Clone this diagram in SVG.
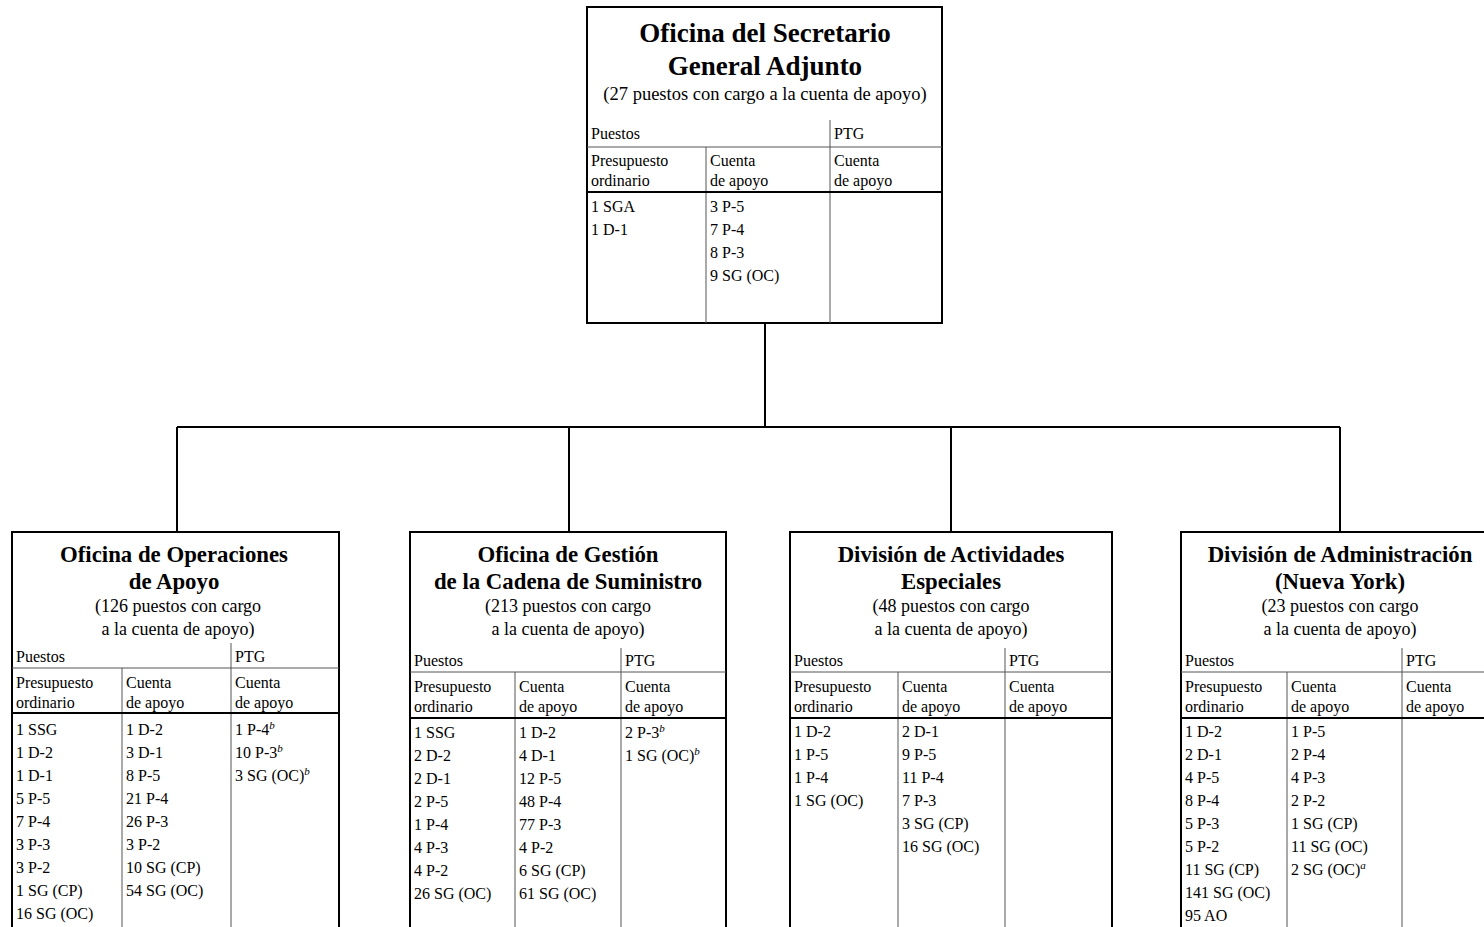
<svg xmlns="http://www.w3.org/2000/svg" width="1484" height="927" viewBox="0 0 1484 927">
  <style>
    text { font-family: "Liberation Serif", "Times New Roman", serif; fill: #000; }
    .ttl { font-size: 27px; font-weight: bold; text-anchor: middle; }
    .sub { font-size: 18.5px; text-anchor: middle; }
    .ttl2 { font-size: 22.8px; font-weight: bold; text-anchor: middle; }
    .sub2 { font-size: 18px; text-anchor: middle; }
    .cell { font-size: 16px; }
    .sup { font-size: 11px; font-style: italic; }
    .box { fill: #fff; stroke: #000; stroke-width: 2; }
    .div { stroke: #555; stroke-width: 1; fill: none; }
    .hdr { stroke: #000; stroke-width: 2; fill: none; }
    .link { stroke: #000; stroke-width: 2; fill: none; }
  </style>

  <!-- connectors -->
  <g id="connectors">
    <path class="link" d="M765 323 V427"/>
    <path class="link" d="M177 427 H1340"/>
    <path class="link" d="M177 427 V532"/>
    <path class="link" d="M569 427 V532"/>
    <path class="link" d="M951 427 V532"/>
    <path class="link" d="M1340 427 V532"/>
  </g>

  <!-- top office -->
  <g id="node-osga">
    <rect class="box" x="587" y="7" width="355" height="316"/>
    <text class="ttl" x="765" y="42">Oficina del Secretario</text>
    <text class="ttl" x="765" y="75">General Adjunto</text>
    <text class="sub" x="765" y="100">(27 puestos con cargo a la cuenta de apoyo)</text>
    <path class="div" d="M830 120 V323"/>
    <path class="div" d="M587 147 H942"/>
    <path class="div" d="M706 147 V323"/>
    <path class="hdr" d="M587 192 H942"/>
    <text class="cell" x="591" y="139">Puestos</text>
    <text class="cell" x="834" y="139">PTG</text>
    <text class="cell" x="591" y="166">Presupuesto</text>
    <text class="cell" x="591" y="186">ordinario</text>
    <text class="cell" x="710" y="166">Cuenta</text>
    <text class="cell" x="710" y="186">de apoyo</text>
    <text class="cell" x="834" y="166">Cuenta</text>
    <text class="cell" x="834" y="186">de apoyo</text>
    <text class="cell" x="591" y="212">1 SGA</text>
    <text class="cell" x="591" y="235">1 D-1</text>
    <text class="cell" x="710" y="212">3 P-5</text>
    <text class="cell" x="710" y="235">7 P-4</text>
    <text class="cell" x="710" y="258">8 P-3</text>
    <text class="cell" x="710" y="281">9 SG (OC)</text>
  </g>

  <!-- Oficina de Operaciones de Apoyo -->
  <g id="node-ooa">
    <rect class="box" x="12" y="532" width="327" height="410"/>
    <text class="ttl2" x="174" y="562">Oficina de Operaciones</text>
    <text class="ttl2" x="174" y="589">de Apoyo</text>
    <text class="sub2" x="178" y="612">(126 puestos con cargo</text>
    <text class="sub2" x="178" y="635">a la cuenta de apoyo)</text>
    <path class="div" d="M231 643 V942"/>
    <path class="div" d="M12 668 H339"/>
    <path class="div" d="M122 668 V942"/>
    <path class="hdr" d="M12 713 H339"/>
    <text class="cell" x="16" y="662">Puestos</text>
    <text class="cell" x="235" y="662">PTG</text>
    <text class="cell" x="16" y="688">Presupuesto</text>
    <text class="cell" x="16" y="708">ordinario</text>
    <text class="cell" x="126" y="688">Cuenta</text>
    <text class="cell" x="126" y="708">de apoyo</text>
    <text class="cell" x="235" y="688">Cuenta</text>
    <text class="cell" x="235" y="708">de apoyo</text>
    <text class="cell" x="16" y="735">1 SSG</text>
    <text class="cell" x="16" y="758">1 D-2</text>
    <text class="cell" x="16" y="781">1 D-1</text>
    <text class="cell" x="16" y="804">5 P-5</text>
    <text class="cell" x="16" y="827">7 P-4</text>
    <text class="cell" x="16" y="850">3 P-3</text>
    <text class="cell" x="16" y="873">3 P-2</text>
    <text class="cell" x="16" y="896">1 SG (CP)</text>
    <text class="cell" x="16" y="919">16 SG (OC)</text>
    <text class="cell" x="126" y="735">1 D-2</text>
    <text class="cell" x="126" y="758">3 D-1</text>
    <text class="cell" x="126" y="781">8 P-5</text>
    <text class="cell" x="126" y="804">21 P-4</text>
    <text class="cell" x="126" y="827">26 P-3</text>
    <text class="cell" x="126" y="850">3 P-2</text>
    <text class="cell" x="126" y="873">10 SG (CP)</text>
    <text class="cell" x="126" y="896">54 SG (OC)</text>
    <text class="cell" x="235" y="735">1 P-4<tspan class="sup" dy="-6">b</tspan></text>
    <text class="cell" x="235" y="758">10 P-3<tspan class="sup" dy="-6">b</tspan></text>
    <text class="cell" x="235" y="781">3 SG (OC)<tspan class="sup" dy="-6">b</tspan></text>
  </g>

  <!-- Oficina de Gestión de la Cadena de Suministro -->
  <g id="node-ogcs">
    <rect class="box" x="410" y="532" width="316" height="410"/>
    <text class="ttl2" x="568" y="562">Oficina de Gestión</text>
    <text class="ttl2" x="568" y="589">de la Cadena de Suministro</text>
    <text class="sub2" x="568" y="612">(213 puestos con cargo</text>
    <text class="sub2" x="568" y="635">a la cuenta de apoyo)</text>
    <path class="div" d="M621 648 V942"/>
    <path class="div" d="M410 672 H726"/>
    <path class="div" d="M515 672 V942"/>
    <path class="hdr" d="M410 718 H726"/>
    <text class="cell" x="414" y="666">Puestos</text>
    <text class="cell" x="625" y="666">PTG</text>
    <text class="cell" x="414" y="692">Presupuesto</text>
    <text class="cell" x="414" y="712">ordinario</text>
    <text class="cell" x="519" y="692">Cuenta</text>
    <text class="cell" x="519" y="712">de apoyo</text>
    <text class="cell" x="625" y="692">Cuenta</text>
    <text class="cell" x="625" y="712">de apoyo</text>
    <text class="cell" x="414" y="738">1 SSG</text>
    <text class="cell" x="414" y="761">2 D-2</text>
    <text class="cell" x="414" y="784">2 D-1</text>
    <text class="cell" x="414" y="807">2 P-5</text>
    <text class="cell" x="414" y="830">1 P-4</text>
    <text class="cell" x="414" y="853">4 P-3</text>
    <text class="cell" x="414" y="876">4 P-2</text>
    <text class="cell" x="414" y="899">26 SG (OC)</text>
    <text class="cell" x="519" y="738">1 D-2</text>
    <text class="cell" x="519" y="761">4 D-1</text>
    <text class="cell" x="519" y="784">12 P-5</text>
    <text class="cell" x="519" y="807">48 P-4</text>
    <text class="cell" x="519" y="830">77 P-3</text>
    <text class="cell" x="519" y="853">4 P-2</text>
    <text class="cell" x="519" y="876">6 SG (CP)</text>
    <text class="cell" x="519" y="899">61 SG (OC)</text>
    <text class="cell" x="625" y="738">2 P-3<tspan class="sup" dy="-6">b</tspan></text>
    <text class="cell" x="625" y="761">1 SG (OC)<tspan class="sup" dy="-6">b</tspan></text>
  </g>

  <!-- División de Actividades Especiales -->
  <g id="node-dae">
    <rect class="box" x="790" y="532" width="322" height="410"/>
    <text class="ttl2" x="951" y="562">División de Actividades</text>
    <text class="ttl2" x="951" y="589">Especiales</text>
    <text class="sub2" x="951" y="612">(48 puestos con cargo</text>
    <text class="sub2" x="951" y="635">a la cuenta de apoyo)</text>
    <path class="div" d="M1005 648 V942"/>
    <path class="div" d="M790 672 H1112"/>
    <path class="div" d="M898 672 V942"/>
    <path class="hdr" d="M790 718 H1112"/>
    <text class="cell" x="794" y="666">Puestos</text>
    <text class="cell" x="1009" y="666">PTG</text>
    <text class="cell" x="794" y="692">Presupuesto</text>
    <text class="cell" x="794" y="712">ordinario</text>
    <text class="cell" x="902" y="692">Cuenta</text>
    <text class="cell" x="902" y="712">de apoyo</text>
    <text class="cell" x="1009" y="692">Cuenta</text>
    <text class="cell" x="1009" y="712">de apoyo</text>
    <text class="cell" x="794" y="737">1 D-2</text>
    <text class="cell" x="794" y="760">1 P-5</text>
    <text class="cell" x="794" y="783">1 P-4</text>
    <text class="cell" x="794" y="806">1 SG (OC)</text>
    <text class="cell" x="902" y="737">2 D-1</text>
    <text class="cell" x="902" y="760">9 P-5</text>
    <text class="cell" x="902" y="783">11 P-4</text>
    <text class="cell" x="902" y="806">7 P-3</text>
    <text class="cell" x="902" y="829">3 SG (CP)</text>
    <text class="cell" x="902" y="852">16 SG (OC)</text>
  </g>

  <!-- División de Administración (Nueva York) -->
  <g id="node-dany">
    <rect class="box" x="1181" y="532" width="318" height="410"/>
    <text class="ttl2" x="1340" y="562">División de Administración</text>
    <text class="ttl2" x="1340" y="589">(Nueva York)</text>
    <text class="sub2" x="1340" y="612">(23 puestos con cargo</text>
    <text class="sub2" x="1340" y="635">a la cuenta de apoyo)</text>
    <path class="div" d="M1402 648 V942"/>
    <path class="div" d="M1181 672 H1499"/>
    <path class="div" d="M1287 672 V942"/>
    <path class="hdr" d="M1181 718 H1499"/>
    <text class="cell" x="1185" y="666">Puestos</text>
    <text class="cell" x="1406" y="666">PTG</text>
    <text class="cell" x="1185" y="692">Presupuesto</text>
    <text class="cell" x="1185" y="712">ordinario</text>
    <text class="cell" x="1291" y="692">Cuenta</text>
    <text class="cell" x="1291" y="712">de apoyo</text>
    <text class="cell" x="1406" y="692">Cuenta</text>
    <text class="cell" x="1406" y="712">de apoyo</text>
    <text class="cell" x="1185" y="737">1 D-2</text>
    <text class="cell" x="1185" y="760">2 D-1</text>
    <text class="cell" x="1185" y="783">4 P-5</text>
    <text class="cell" x="1185" y="806">8 P-4</text>
    <text class="cell" x="1185" y="829">5 P-3</text>
    <text class="cell" x="1185" y="852">5 P-2</text>
    <text class="cell" x="1185" y="875">11 SG (CP)</text>
    <text class="cell" x="1185" y="898">141 SG (OC)</text>
    <text class="cell" x="1185" y="921">95 AO</text>
    <text class="cell" x="1291" y="737">1 P-5</text>
    <text class="cell" x="1291" y="760">2 P-4</text>
    <text class="cell" x="1291" y="783">4 P-3</text>
    <text class="cell" x="1291" y="806">2 P-2</text>
    <text class="cell" x="1291" y="829">1 SG (CP)</text>
    <text class="cell" x="1291" y="852">11 SG (OC)</text>
    <text class="cell" x="1291" y="875">2 SG (OC)<tspan class="sup" dy="-6">a</tspan></text>
  </g>
</svg>
